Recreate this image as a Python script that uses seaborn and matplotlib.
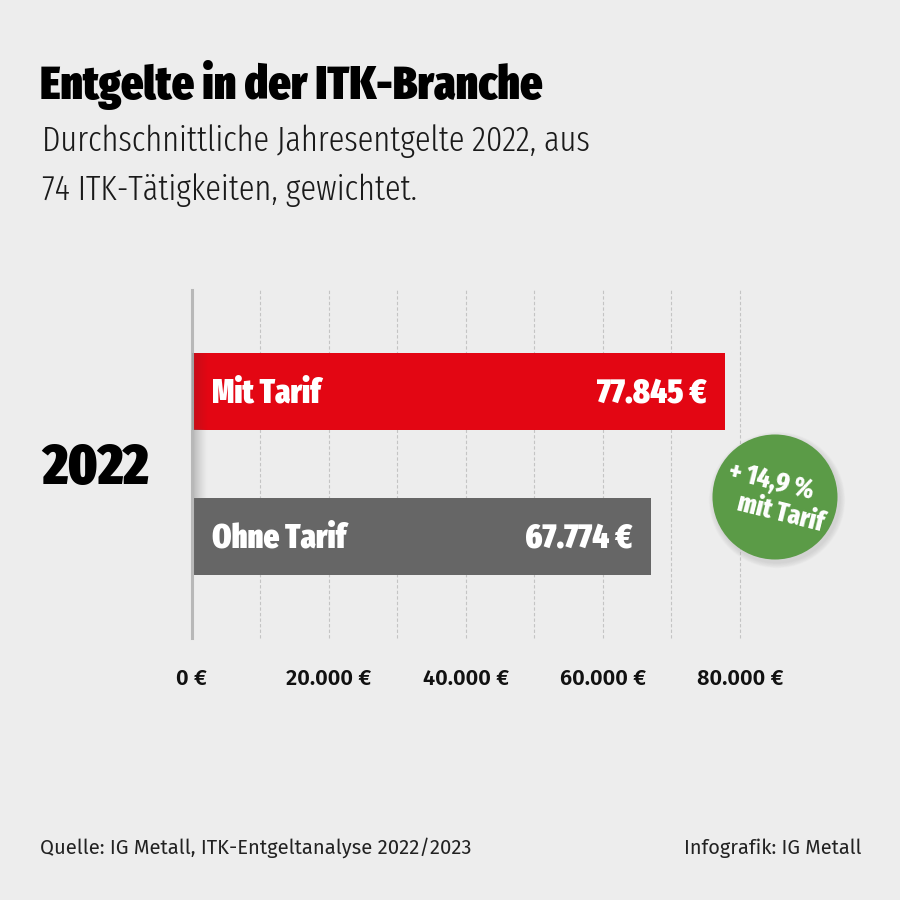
import numpy as np
import pandas as pd
import matplotlib
matplotlib.use("Agg")
import matplotlib.pyplot as plt
from matplotlib.patches import Circle
from matplotlib.ticker import FixedLocator, FuncFormatter
import seaborn as sns

categories = ["Mit Tarif", "Ohne Tarif"]
# bar lengths as drawn in the picture, read against the gridlines
bar_lengths = [77845, 67000]
value_labels = ["77.845 €", "67.774 €"]
major_ticks = [0, 20000, 40000, 60000, 80000]
minor_ticks = [10000, 30000, 50000, 70000]
title = "Entgelte in der ITK-Branche"
subtitle = ["Durchschnittliche Jahresentgelte 2022, aus", "74 ITK-Tätigkeiten, gewichtet."]
year = "2022"
badge = ["+ 14,9 %", "mit Tarif"]
source = "Quelle: IG Metall, ITK-Entgeltanalyse 2022/2023"
credit = "Infografik: IG Metall"

BG = "#ededed"
RED = "#e30613"
GREY = "#666666"
GREEN = "#5b9b47"
COND = ["Fira Sans Extra Condensed", "Liberation Sans", "DejaVu Sans"]
PLAIN = ["Fira Sans", "Open Sans", "DejaVu Sans"]

sns.set_theme(style="white")
plt.rcParams["font.family"] = PLAIN

fig = plt.figure(figsize=(9, 9), dpi=100, facecolor=BG)
ax = fig.add_axes([191.5 / 900, 1 - 638 / 900, (740 - 191.5) / 900, (638 - 290) / 900], facecolor=BG)

df = pd.DataFrame({"kategorie": categories, "wert": bar_lengths})
sns.barplot(data=df, y="kategorie", x="wert", hue="kategorie",
            palette=[RED, GREY], dodge=False, legend=False, width=0.53,
            saturation=1, linewidth=0, ax=ax)

ax.set_xlim(0, 80000)
ax.set_ylim(1.7, -0.7)
ax.set_xlabel("")
ax.set_ylabel("")
ax.set_yticks([])
ax.xaxis.set_major_locator(FixedLocator(major_ticks))
ax.xaxis.set_minor_locator(FixedLocator(minor_ticks))
ax.xaxis.set_major_formatter(FuncFormatter(lambda v, _: f"{int(v):,} €".replace(",", ".")))
ax.tick_params(axis="x", which="both", length=0, pad=22)
for lab in ax.get_xticklabels():
    lab.set_fontsize(15.7)
    lab.set_fontweight(600)
    lab.set_color("#111111")
ax.set_axisbelow(True)
for which in ("major", "minor"):
    ax.grid(True, axis="x", which=which, color="#c4c4c4", linewidth=0.8,
            linestyle=(0, (3, 2)), clip_on=False)
for side in ("top", "right", "bottom"):
    ax.spines[side].set_visible(False)
ax.spines["left"].set_color("#b8b8b8")
ax.spines["left"].set_linewidth(2.2)

# soft shadow next to the axis
ramp = np.zeros((1, 64, 4))
ramp[..., :3] = 0.45
ramp[..., 3] = np.linspace(0.55, 0, 64) ** 1.3
ax.imshow(ramp, extent=(0, 2200, 0.74, 0.26), aspect="auto", zorder=1.5, interpolation="bilinear")
ramp_bar = ramp.copy()
ramp_bar[..., :3] = 0.2
ramp_bar[..., 3] = np.linspace(0.18, 0, 64)
ax.imshow(ramp_bar, extent=(0, 2200, 0.265, -0.265), aspect="auto", zorder=3, interpolation="bilinear")
ax.set_xlim(0, 80000)
ax.set_ylim(1.7, -0.7)

for i, (cat, val, lab) in enumerate(zip(categories, bar_lengths, value_labels)):
    ax.annotate(cat, (0, i), xytext=(15.1, 1.5), textcoords="offset points", color="white",
                fontsize=24, fontweight=900, family=COND, va="center_baseline", ha="left", zorder=5)
    ax.annotate(lab, (val, i), xytext=(-13.4, 1.5), textcoords="offset points", color="white",
                fontsize=24.8, fontweight=900, family=COND, va="center_baseline", ha="right", zorder=5)

# overlay in pixel units for the page furniture
ov = fig.add_axes([0, 0, 1, 1], facecolor="none")
ov.set_xlim(0, 900)
ov.set_ylim(900, 0)
ov.axis("off")

ov.text(40, 99, title, fontsize=34, fontweight=900, family=COND, color="black", ha="left", va="baseline")
ov.text(42, 151, subtitle[0], fontsize=25.3, fontweight=300, family=COND, color="#1a1a1a", ha="left", va="baseline")
ov.text(42, 200, subtitle[1], fontsize=25.3, fontweight=300, family=COND, color="#1a1a1a", ha="left", va="baseline")
ov.text(42, 484, year, fontsize=42, fontweight=900, family=COND, color="black", ha="left", va="baseline")

cx, cy, r = 775, 497, 62.5
for k in range(8, 0, -1):
    ov.add_patch(Circle((cx + 2, cy + 3), r + k * 0.7, color="#888888", alpha=0.03, lw=0))
ov.add_patch(Circle((cx, cy), r, color=GREEN, lw=0))
ov.text(771, 481, badge[0], fontsize=20, fontweight=800, family=COND, color="white",
        ha="center", va="center", rotation=-14, rotation_mode="anchor")
ov.text(781, 513, badge[1], fontsize=19.5, fontweight=800, family=COND, color="white",
        ha="center", va="center", rotation=-14, rotation_mode="anchor")

ov.text(40, 854, source, fontsize=14.55, color="#222222", ha="left", va="baseline")
ov.text(862, 854, credit, fontsize=14.35, color="#222222", ha="right", va="baseline")

fig.savefig("out.png", dpi=100, facecolor=BG)
